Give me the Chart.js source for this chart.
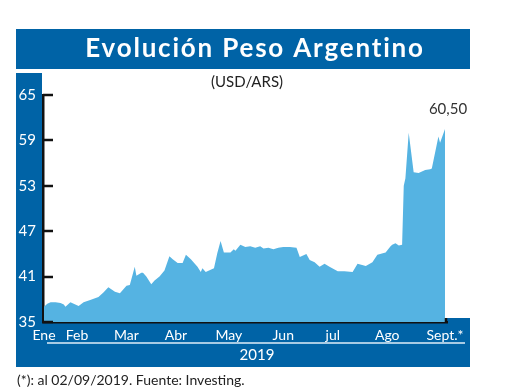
<!DOCTYPE html>
<html>
<head>
<meta charset="utf-8">
<script src="https://cdn.jsdelivr.net/npm/chart.js@4"></script>
<style>
  html, body { margin: 0; padding: 0; background: #fff; }
  #grafico { display: block; }
</style>
</head>
<body>
<canvas id="grafico" width="520" height="390"></canvas>
<script>
// días desde el 2 de enero de 2019
const dias = [0, 2, 4, 7, 10, 12, 13, 16, 18, 21, 24, 28, 33, 36, 39, 43, 46, 50, 52, 55,
  56, 59, 60, 62, 65, 67, 70, 73, 76, 78, 81, 84, 86, 89, 93, 95, 96, 98, 101, 103,
  105, 107, 109, 113, 115, 116, 119, 122, 125, 128, 131, 133, 136, 139, 142, 145, 149, 153, 155, 159,
  161, 164, 167, 170, 173, 178, 182, 187, 190, 195, 199, 202, 207, 210, 211, 213, 215, 217, 218, 219,
  221, 224, 227, 231, 234, 235, 239, 240, 243];
// cotización USD/ARS
const valores = [37.0, 37.4, 37.6, 37.6, 37.5, 37.3, 37.0, 37.6, 37.4, 37.1, 37.6, 37.9, 38.3, 38.9, 39.6, 39.0, 38.8, 39.8, 39.9, 42.3,
  41.1, 41.5, 41.5, 41.0, 40.0, 40.5, 41.0, 41.8, 43.7, 43.3, 42.8, 42.8, 43.9, 43.3, 42.3, 41.6, 42.1, 41.6, 41.9, 42.1,
  44.1, 45.7, 44.2, 44.2, 44.6, 44.4, 45.2, 44.9, 45.0, 44.8, 45.0, 44.7, 44.8, 44.6, 44.8, 44.9, 44.9, 44.8, 43.6, 44.0,
  43.2, 42.9, 42.3, 42.7, 42.3, 41.7, 41.7, 41.6, 42.7, 42.4, 42.9, 43.9, 44.2, 45.0, 45.2, 45.4, 45.1, 45.2, 53.0, 54.0,
  60.0, 54.8, 54.7, 55.1, 55.2, 55.3, 59.5, 58.7, 60.5];

const mesesDias = [0, 20, 50, 80, 112, 145, 175, 208, 243];
const meses = ['Ene', 'Feb', 'Mar', 'Abr', 'May', 'Jun', 'jul', 'Ago', 'Sept.*'];
const ticksY = [35, 41, 47, 53, 59, 65];

const AZUL = '#0063a6';
const CELESTE = '#55b3e2';
const FUENTE = 'Lato, "Open Sans", sans-serif';

const decorado = {
  id: 'decorado',
  beforeDraw(chart) {
    const { ctx, chartArea: a } = chart;
    ctx.save();
    ctx.fillStyle = '#fff';
    ctx.fillRect(0, 0, chart.width, chart.height);
    ctx.fillStyle = AZUL;
    ctx.fillRect(16, 29, 454, 40);
    ctx.fillRect(16, 73, a.left - 17, 294);
    ctx.fillRect(16, a.bottom - 4, 454, 367 - (a.bottom - 4));
    ctx.restore();
  },
  afterDraw(chart) {
    const { ctx, chartArea: a, scales } = chart;
    ctx.save();
    // marcas hacia adentro del eje y
    ctx.strokeStyle = '#111';
    ctx.lineWidth = 2.5;
    ticksY.forEach(v => {
      const y = Math.round(scales.y.getPixelForValue(v));
      ctx.beginPath();
      ctx.moveTo(a.left, y);
      ctx.lineTo(a.left + 10, y);
      ctx.stroke();
    });
    ctx.beginPath();
    ctx.moveTo(a.right - 1, a.bottom);
    ctx.lineTo(a.right - 1, a.bottom - 4);
    ctx.stroke();

    // línea blanca bajo los meses
    ctx.strokeStyle = '#dfeef8';
    ctx.lineWidth = 1.5;
    ctx.beginPath();
    ctx.moveTo(47, 343);
    ctx.lineTo(465, 343);
    ctx.stroke();

    ctx.textBaseline = 'middle';
    ctx.textAlign = 'center';
    ctx.fillStyle = '#fff';
    ctx.font = 'bold 26px ' + FUENTE;
    ctx.letterSpacing = '1.8px';
    ctx.fillText('Evolución Peso Argentino', 255, 49);
    ctx.letterSpacing = '0px';
    ctx.font = '15px ' + FUENTE;
    ctx.fillText('2019', 257, 355);

    ctx.fillStyle = '#222';
    ctx.font = '15px ' + FUENTE;
    ctx.fillText('(USD/ARS)', 247, 82);

    const ultX = scales.x.getPixelForValue(dias[dias.length - 1]);
    const ultY = scales.y.getPixelForValue(valores[valores.length - 1]);
    ctx.fillStyle = '#333';
    ctx.fillText('60,50', ultX + 3, ultY - 20);

    ctx.textAlign = 'left';
    ctx.fillStyle = '#222';
    ctx.font = '14px ' + FUENTE;
    ctx.fillText('(*): al 02/09/2019. Fuente: Investing.', 17, 380);
    ctx.restore();
  }
};

new Chart(document.getElementById('grafico'), {
  type: 'line',
  data: {
    datasets: [{
      data: dias.map((d, i) => ({ x: d, y: valores[i] })),
      borderWidth: 0,
      borderColor: CELESTE,
      backgroundColor: CELESTE,
      fill: 'start',
      pointRadius: 0,
      tension: 0
    }]
  },
  options: {
    responsive: false,
    animation: false,
    layout: { padding: { top: 95, left: 16, right: 73, bottom: 20 } },
    plugins: {
      legend: { display: false },
      tooltip: { enabled: false }
    },
    scales: {
      x: {
        type: 'linear',
        min: -0.6,
        max: 244.2,
        afterFit: s => { s.height = 48; },
        afterBuildTicks: s => { s.ticks = mesesDias.map(v => ({ value: v })); },
        ticks: {
          color: '#fff',
          font: { family: FUENTE, size: 14 },
          padding: 5,
          maxRotation: 0,
          autoSkip: false,
          callback: (v) => meses[mesesDias.indexOf(v)]
        },
        grid: { display: false, drawTicks: false },
        border: { display: true, color: '#111', width: 2.5 }
      },
      y: {
        min: 35,
        max: 65,
        afterFit: s => { s.width = 27; },
        afterBuildTicks: s => { s.ticks = ticksY.map(v => ({ value: v })); },
        ticks: {
          color: '#fff',
          font: { family: FUENTE, size: 15 },
          padding: 7
        },
        grid: { display: false, drawTicks: false },
        border: { display: true, color: '#111', width: 2.5 }
      }
    }
  },
  plugins: [decorado]
});
</script>
</body>
</html>
